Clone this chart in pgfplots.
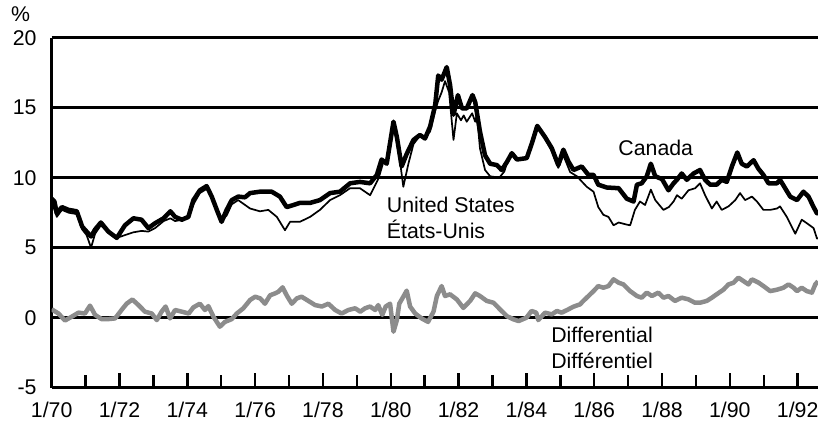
\documentclass[border=0pt]{standalone}
\usepackage{pgfplots}
\pgfplotsset{compat=1.18}
\usepackage{fontspec}
\setmainfont{Liberation Sans}
\definecolor{diffgray}{RGB}{140,140,140}
\begin{document}
\begin{tikzpicture}[font=\fontsize{21.3bp}{26bp}\selectfont]
\begin{axis}[
  at={(0,0)}, anchor=south west,
  scale only axis, width=766.3bp, height=350bp,
  xmin=1970, xmax=1992.6, ymin=-5, ymax=20,
  axis lines=left,
  axis line style={-, black, line width=2.5bp},
  ytick={-5,0,5,10,15,20},
  ymajorgrids,
  grid style={black, line width=2.5bp},
  xtick={1970,1972,...,1992},
  xticklabels={1/70,1/72,1/74,1/76,1/78,1/80,1/82,1/84,1/86,1/88,1/90,1/92},
  minor xtick={1971,1973,...,1991},
  tick align=inside,
  x tick style={black, line width=2.5bp},
  xtick style={black, line width=2.5bp},
  major tick length=15bp, minor tick length=12.5bp,
  y tick style={draw=none},
  /pgf/number format/assume math mode=true,
  yticklabel style={anchor=east, xshift=-11.7bp},
  xticklabel style={yshift=-11bp},
  clip mode=individual,
]
\addplot[diffgray, line width=4.5bp, line join=round] coordinates {
(1970.0,0.6)(1970.2,0.3)(1970.39,-0.2)(1970.59,0.07)(1970.79,0.36)(1970.98,0.3)
(1971.13,0.86)(1971.28,0.2)(1971.47,-0.1)(1971.67,-0.1)(1971.87,-0.05)(1972.06,0.55)
(1972.21,1.0)(1972.38,1.3)(1972.56,0.9)(1972.75,0.43)(1972.95,0.3)(1973.1,-0.17)
(1973.24,0.43)(1973.36,0.8)(1973.49,-0.05)(1973.64,0.55)(1973.84,0.43)(1974.04,0.3)
(1974.18,0.74)(1974.37,1.0)(1974.52,0.55)(1974.62,0.83)(1974.77,0.07)(1974.96,-0.64)
(1975.11,-0.3)(1975.31,-0.1)(1975.46,0.3)(1975.65,0.67)(1975.85,1.26)(1976.0,1.5)
(1976.15,1.38)(1976.29,1.0)(1976.44,1.6)(1976.59,1.74)(1976.69,1.86)(1976.81,2.17)
(1976.93,1.6)(1977.08,1.0)(1977.23,1.38)(1977.37,1.5)(1977.57,1.2)(1977.77,0.9)
(1977.97,0.8)(1978.16,1.0)(1978.36,0.55)(1978.55,0.3)(1978.75,0.55)(1978.95,0.67)
(1979.1,0.43)(1979.24,0.67)(1979.39,0.8)(1979.54,0.55)(1979.63,0.9)(1979.75,0.2)
(1979.85,0.8)(1979.98,1.0)(1980.08,-1.0)(1980.18,-0.17)(1980.25,1.0)(1980.37,1.5)
(1980.47,1.93)(1980.57,0.8)(1980.72,0.3)(1980.91,-0.05)(1981.1,-0.3)(1981.26,0.43)
(1981.36,1.55)(1981.5,2.26)(1981.6,1.55)(1981.75,1.67)(1981.95,1.3)(1982.14,0.7)
(1982.34,1.2)(1982.49,1.74)(1982.63,1.55)(1982.83,1.2)(1983.03,1.07)(1983.22,0.6)
(1983.42,0.12)(1983.62,-0.12)(1983.77,-0.24)(1984.0,0.0)(1984.15,0.48)(1984.29,0.36)
(1984.35,-0.17)(1984.55,0.36)(1984.75,0.24)(1984.9,0.48)(1985.04,0.36)(1985.24,0.6)
(1985.39,0.79)(1985.58,0.95)(1985.68,1.2)(1985.83,1.55)(1985.98,1.9)(1986.12,2.26)
(1986.27,2.14)(1986.42,2.26)(1986.57,2.74)(1986.72,2.5)(1986.86,2.38)(1987.06,1.9)
(1987.26,1.55)(1987.4,1.43)(1987.55,1.79)(1987.7,1.55)(1987.89,1.79)(1988.04,1.43)
(1988.19,1.55)(1988.38,1.2)(1988.58,1.43)(1988.78,1.31)(1988.97,1.07)(1989.12,1.07)
(1989.32,1.2)(1989.47,1.43)(1989.61,1.67)(1989.81,2.0)(1989.96,2.38)(1990.11,2.5)
(1990.25,2.86)(1990.4,2.62)(1990.55,2.38)(1990.65,2.74)(1990.85,2.5)(1990.99,2.26)
(1991.19,1.9)(1991.39,2.0)(1991.58,2.14)(1991.73,2.38)(1991.88,2.14)(1991.98,1.9)
(1992.12,2.14)(1992.27,1.9)(1992.42,1.79)(1992.52,2.38)(1992.6,2.6)
};
\addplot[black, line width=4.5bp, line join=round] coordinates {
(1970.0,8.5)(1970.08,8.3)(1970.15,7.45)(1970.3,7.9)(1970.5,7.7)(1970.74,7.6)
(1970.9,6.5)(1971.03,6.15)(1971.16,5.8)(1971.28,6.3)(1971.45,6.8)(1971.67,6.15)
(1971.92,5.7)(1972.16,6.6)(1972.41,7.1)(1972.65,7.0)(1972.85,6.4)(1973.05,6.75)
(1973.3,7.1)(1973.5,7.6)(1973.64,7.2)(1973.84,7.0)(1974.03,7.2)(1974.18,8.4)
(1974.37,9.1)(1974.57,9.4)(1974.72,8.65)(1974.87,7.7)(1975.01,6.85)(1975.16,7.7)
(1975.31,8.4)(1975.5,8.65)(1975.7,8.6)(1975.85,8.9)(1976.14,9.0)(1976.49,9.0)
(1976.73,8.65)(1976.93,7.9)(1977.13,8.05)(1977.32,8.2)(1977.62,8.2)(1977.91,8.4)
(1978.21,8.9)(1978.5,9.0)(1978.8,9.6)(1979.09,9.7)(1979.39,9.6)(1979.59,10.2)
(1979.73,11.3)(1979.88,11.0)(1980.08,14.0)(1980.18,12.9)(1980.32,10.8)(1980.47,11.7)
(1980.67,12.7)(1980.86,13.05)(1981.01,12.8)(1981.16,13.65)(1981.31,15.2)(1981.4,17.3)
(1981.5,17.0)(1981.65,17.9)(1981.75,16.6)(1981.85,14.5)(1981.98,15.9)(1982.1,14.95)
(1982.24,14.95)(1982.41,15.9)(1982.49,15.4)(1982.63,13.3)(1982.78,11.6)(1982.93,11.0)
(1983.13,10.9)(1983.27,10.55)(1983.42,11.1)(1983.57,11.75)(1983.72,11.3)(1984.01,11.4)
(1984.16,12.45)(1984.32,13.7)(1984.55,12.9)(1984.75,12.1)(1984.94,10.9)(1985.09,12.0)
(1985.24,11.15)(1985.39,10.55)(1985.63,10.8)(1985.83,10.2)(1985.98,10.2)(1986.12,9.5)
(1986.37,9.3)(1986.72,9.25)(1986.96,8.5)(1987.16,8.3)(1987.26,9.5)(1987.4,9.6)
(1987.55,10.1)(1987.67,11.0)(1987.8,10.1)(1988.0,9.9)(1988.19,9.1)(1988.34,9.6)
(1988.44,9.85)(1988.58,10.3)(1988.73,9.85)(1988.93,10.3)(1989.12,10.55)(1989.27,9.85)
(1989.42,9.5)(1989.61,9.5)(1989.76,9.85)(1989.91,9.7)(1990.06,10.8)(1990.22,11.8)
(1990.35,11.0)(1990.5,10.8)(1990.7,11.25)(1990.84,10.65)(1990.99,10.2)(1991.14,9.6)
(1991.39,9.6)(1991.48,9.85)(1991.63,9.25)(1991.78,8.65)(1991.98,8.4)(1992.17,9.0)
(1992.32,8.65)(1992.47,7.9)(1992.57,7.45)(1992.6,7.6)
};
\addplot[black, line width=1.7bp, line join=round] coordinates {
(1970.0,8.3)(1970.15,7.2)(1970.3,7.7)(1970.5,7.5)(1970.74,7.4)(1970.9,6.3)
(1971.03,5.9)(1971.16,5.0)(1971.28,6.0)(1971.45,6.6)(1971.67,6.1)(1971.92,5.7)
(1972.16,5.9)(1972.41,6.1)(1972.65,6.2)(1972.85,6.15)(1973.05,6.4)(1973.3,6.9)
(1973.5,7.1)(1973.64,6.9)(1973.84,7.0)(1974.03,7.1)(1974.18,8.1)(1974.37,8.9)
(1974.57,9.2)(1974.72,8.7)(1974.87,7.8)(1975.01,6.9)(1975.16,7.3)(1975.31,8.1)
(1975.5,8.4)(1975.85,7.8)(1976.14,7.6)(1976.39,7.7)(1976.64,7.2)(1976.88,6.25)
(1977.03,6.85)(1977.32,6.85)(1977.62,7.2)(1977.91,7.7)(1978.21,8.4)(1978.5,8.75)
(1978.8,9.25)(1979.09,9.25)(1979.39,8.75)(1979.64,9.95)(1979.78,11.1)(1979.88,11.0)
(1980.08,13.8)(1980.2,12.5)(1980.37,9.35)(1980.52,11.0)(1980.67,12.4)(1980.86,13.0)
(1981.01,12.9)(1981.16,13.3)(1981.31,14.8)(1981.4,15.5)(1981.5,16.1)(1981.6,16.9)
(1981.72,16.1)(1981.85,12.7)(1981.95,14.6)(1982.07,14.1)(1982.15,14.45)(1982.24,14.0)
(1982.4,14.6)(1982.49,14.0)(1982.54,14.5)(1982.63,12.1)(1982.78,10.55)(1982.93,10.1)
(1983.2,10.0)(1983.35,10.45)(1983.42,11.0)(1983.57,11.7)(1983.72,11.3)(1984.01,11.35)
(1984.16,12.3)(1984.32,13.6)(1984.55,12.8)(1984.75,11.9)(1984.94,10.7)(1985.09,11.6)
(1985.29,10.4)(1985.49,10.1)(1985.78,9.35)(1985.98,9.0)(1986.12,7.9)(1986.27,7.35)
(1986.42,7.2)(1986.57,6.6)(1986.72,6.8)(1986.96,6.65)(1987.06,6.6)(1987.2,7.7)
(1987.35,8.3)(1987.5,8.05)(1987.67,9.15)(1987.8,8.4)(1988.04,7.7)(1988.2,7.9)
(1988.34,8.3)(1988.44,8.75)(1988.58,8.5)(1988.78,9.1)(1988.98,9.25)(1989.12,9.6)
(1989.27,8.75)(1989.47,7.8)(1989.61,8.3)(1989.76,7.7)(1989.96,7.95)(1990.16,8.4)
(1990.3,8.9)(1990.45,8.4)(1990.65,8.65)(1990.8,8.3)(1990.99,7.7)(1991.19,7.7)
(1991.39,7.8)(1991.48,7.95)(1991.68,7.2)(1991.93,6.0)(1992.12,7.0)(1992.27,6.75)
(1992.47,6.4)(1992.57,5.65)(1992.6,5.7)
};
\node[anchor=center, inner sep=0pt] at (axis cs:1969.08,21.66) {\%};
\node[anchor=base west, inner sep=0pt] at (axis cs:1986.71,11.62) {Canada};
\node[anchor=base west, inner sep=0pt] at (axis cs:1979.88,7.5) {United States};
\node[anchor=base west, inner sep=0pt] at (axis cs:1979.88,5.64) {États-Unis};
\node[anchor=base west, inner sep=0pt] at (axis cs:1984.73,-1.76) {Differential};
\node[anchor=base west, inner sep=0pt] at (axis cs:1984.73,-3.61) {Différentiel};
\end{axis}
\pgfresetboundingbox
\useasboundingbox (-51.7bp,-39.3bp) rectangle (766.3bp,387.7bp);
\end{tikzpicture}
\end{document}
